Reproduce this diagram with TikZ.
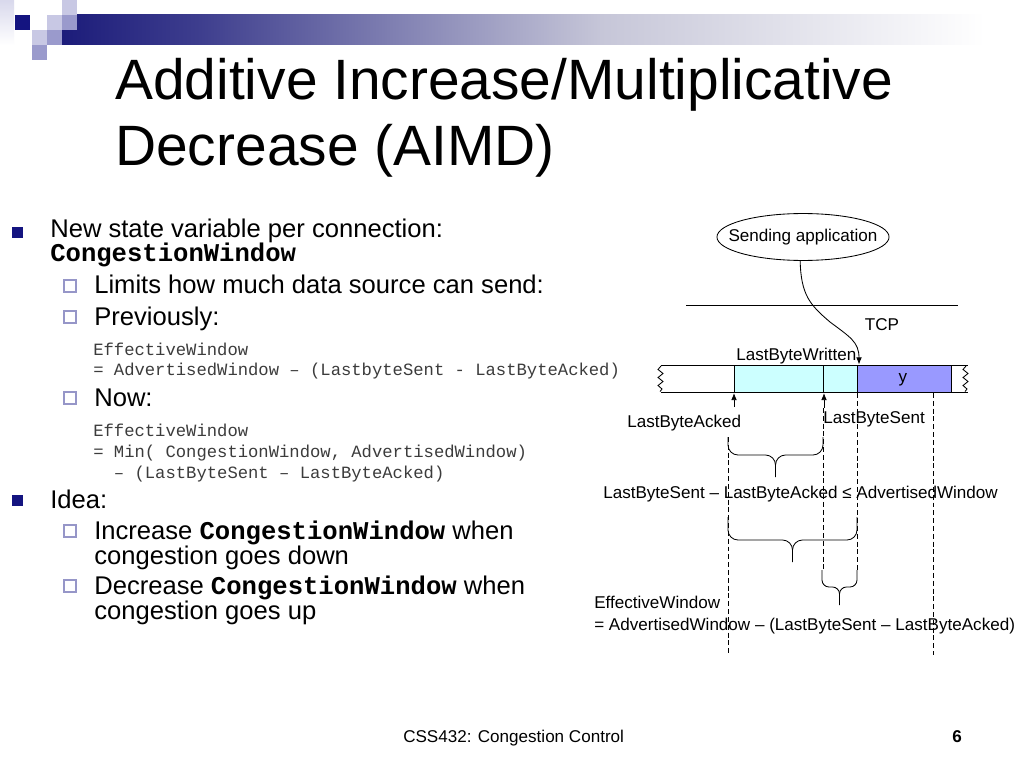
\documentclass[tikz,border=0pt]{standalone}
\usepackage{fontspec}
\setmainfont{Liberation Sans}
\newfontfamily\monofont{Liberation Mono}
\usetikzlibrary{shapes.geometric,arrows.meta}

\definecolor{navy}{RGB}{20,20,128}
\definecolor{barA}{RGB}{28,28,122}
\definecolor{barB}{RGB}{62,62,142}
\definecolor{barC}{RGB}{198,198,216}
\definecolor{lav}{RGB}{200,200,228}
\definecolor{lavmid}{RGB}{154,154,204}
\definecolor{hollow}{RGB}{150,150,200}
\definecolor{bufcyan}{RGB}{204,255,255}
\definecolor{bufblue}{RGB}{153,153,255}
\definecolor{monogray}{RGB}{60,60,60}

\tikzset{
  titletext/.style={anchor=base west, inner sep=0, font=\fontsize{40}{48}\selectfont},
  lvltext/.style={anchor=base west, inner sep=0, font=\fontsize{18}{22}\selectfont},
  codetext/.style={anchor=base west, inner sep=0, font=\monofont\fontsize{12.1}{14}\selectfont, text=monogray},
  diagtext/.style={inner sep=0, font=\fontsize{12}{14}\selectfont},
  bulfull/.style={fill=navy},
  bulhollow/.style={draw=hollow, line width=0.8pt},
  dashline/.style={line width=0.55pt, dash pattern=on 3.5pt off 2pt},
  bracepath/.style={line width=0.6pt},
  thinline/.style={line width=0.6pt},
  uparrow/.style={line width=0.6pt, -{Latex[length=5pt,width=4pt]}},
}

\newcommand\mybrace[7]{%
  \draw[bracepath] (#1,#3) -- (#1,{#4-#7}) .. controls (#1,{#4-0.45*#7}) and ({#1+0.45*#7},#4) .. ({#1+#7},#4) -- ({#5-#7},#4) .. controls ({#5-0.45*#7},#4) and (#5,{#4+0.45*#7}) .. (#5,{#4+#7}) -- (#5,#6);
  \draw[bracepath] (#2,#3) -- (#2,{#4-#7}) .. controls (#2,{#4-0.45*#7}) and ({#2-0.45*#7},#4) .. ({#2-#7},#4) -- ({#5+#7},#4) .. controls ({#5+0.45*#7},#4) and (#5,{#4+0.45*#7}) .. (#5,{#4+#7});
}

\begin{document}
\begin{tikzpicture}[x=0.703125pt,y=-0.703125pt]
\useasboundingbox (0,0) rectangle (1024,768);
\fill[white] (0,0) rectangle (1024,768);

% ---- logo and bar ----
\shade[top color=lav!70, bottom color=white] (0,0) rectangle (14,45);
\shade[left color=barA, right color=barB] (62,15) rectangle (200.5,45);
\shade[left color=barB, right color=barC] (200,15) rectangle (600.5,45);
\shade[left color=barC, right color=white] (600,15) rectangle (985,45);
\fill[navy] (15,15) rectangle (30,30);
\fill[lav] (62,0) rectangle (77,15);
\fill[lav] (47,15) rectangle (62,30);
\fill[lavmid] (62,15) rectangle (77,30);
\fill[lav] (32,30) rectangle (47,45);
\fill[lavmid] (47,30) rectangle (62,45);
\fill[lavmid] (32,45) rectangle (47,60);

% ---- title ----
\node[titletext] (t1) at (115,100) {Additive Increase/Multiplicative};
\node[titletext] (t2) at (115,166) {Decrease (AIMD)};

% ---- left text ----
\fill[bulfull] (12,227) rectangle (23,238);
\node[lvltext] (b1) at (50,238) {New state variable per connection:};
\node[lvltext] (b1b) at (50,262) {\monofont\bfseries CongestionWindow};
\draw[bulhollow] (64,280) rectangle (76,292);
\node[lvltext] (s1) at (94,294) {Limits how much data source can send:};
\draw[bulhollow] (64,311) rectangle (76,323);
\node[lvltext] (s2) at (94,325) {Previously:};
\node[codetext] (c1) at (93,355) {EffectiveWindow};
\node[codetext] (c2) at (93,375) {= AdvertisedWindow – (LastbyteSent - LastByteAcked)};
\draw[bulhollow] (64,392) rectangle (76,404);
\node[lvltext] (s3) at (94,406) {Now:};
\node[codetext] (c3) at (93,436) {EffectiveWindow};
\node[codetext] (c4) at (93,457) {= Min( CongestionWindow, AdvertisedWindow)};
\node[codetext] (c5) at (93,478) {\phantom{=} – (LastByteSent – LastByteAcked)};
\fill[bulfull] (12,495) rectangle (23,506);
\node[lvltext] (b2) at (50,508) {Idea:};
\draw[bulhollow] (64,525) rectangle (76,537);
\node[lvltext] (s4) at (94,539) {Increase {\monofont\bfseries CongestionWindow} when};
\node[lvltext] (s4b) at (94,564) {congestion goes down};
\draw[bulhollow] (64,580) rectangle (76,592);
\node[lvltext] (s5) at (94,594) {Decrease {\monofont\bfseries CongestionWindow} when};
\node[lvltext] (s5b) at (94,619) {congestion goes up};

% ---- diagram ----
\node[draw, ellipse, thinline, minimum width=121pt, minimum height=33pt, inner sep=0,
      font=\fontsize{12}{14}\selectfont] (app) at (803,237) {\makebox[0pt]{Sending application}};
\coordinate (sepL) at (686,305);
\coordinate (sepR) at (958,305);
\draw[thinline] (sepL) -- (sepR);
\node[diagtext] (tcp) at (882,325) {TCP};

% buffer
\fill[bufcyan] (734,365) rectangle (857,392);
\fill[bufblue] (857,365) rectangle (951,392);
\draw[thinline] (661,365) -- (968,365);
\draw[thinline] (661,392) -- (968,392);
\draw[thinline] (734,365) -- (734,392);
\draw[thinline] (823,365) -- (823,392);
\draw[thinline] (857,365) -- (857,392);
\draw[thinline] (951,365) -- (951,392);
\draw[thinline] (661,366) -- (658,369.5) -- (663,373.5) -- (658,377.5) -- (663,381.5) -- (658,385.5) -- (662,389) -- (660,391.5);
\draw[thinline] (966,366) -- (963,369.5) -- (968,373.5) -- (963,377.5) -- (968,381.5) -- (963,385.5) -- (967,389) -- (965,391.5);
\node[diagtext] (ylab) at (903,380) {y};

% connector from application
\coordinate (lbw) at (859,364.5);
\draw[uparrow] ([xshift=-2pt]app.south) .. controls (801,295) and (810,305) .. (830,322) .. controls (850,337) and (859,342) .. (lbw);

% pointers
\coordinate (ackTail) at (734,407);
\coordinate (ackHead) at (734,393);
\coordinate (sentTail) at (824,408);
\coordinate (sentHead) at (824,393);
\draw[uparrow] (ackTail) -- (ackHead);
\draw[uparrow] (sentTail) -- (sentHead);

\node[diagtext, anchor=base west] (lbwL) at (736,360) {LastByteWritten};
\node[diagtext, anchor=base west] (lbaL) at (627,427) {LastByteAcked};
\node[diagtext, anchor=base west] (lbsL) at (823,423) {LastByteSent};

% dashed guides
\draw[dashline] (728,437) -- (728,655);
\draw[dashline] (823,408) -- (823,570);
\draw[dashline] (857,393) -- (857,570);
\draw[dashline] (933,393) -- (933,655);

% braces
\mybrace{728}{823}{437}{455}{775.5}{477}{10}
\mybrace{728}{857}{517}{540}{792.5}{562}{10}
\mybrace{822}{857}{570}{587}{839.5}{605}{7}

\node[diagtext, anchor=base west] (f1) at (603,498) {LastByteSent – LastByteAcked ≤ AdvertisedWindow};
\node[diagtext, anchor=base west] (f2) at (594,608) {EffectiveWindow};
\node[diagtext, anchor=base west] (f3) at (594,630) {= AdvertisedWindow – (LastByteSent – LastByteAcked)};

% ---- footer ----
\node[diagtext, anchor=base west] (foot) at (403,742) {CSS432: Congestion Control};
\node[diagtext, anchor=base, font=\fontsize{12}{14}\selectfont\bfseries] (pg) at (957,742) {6};
\end{tikzpicture}
\end{document}
